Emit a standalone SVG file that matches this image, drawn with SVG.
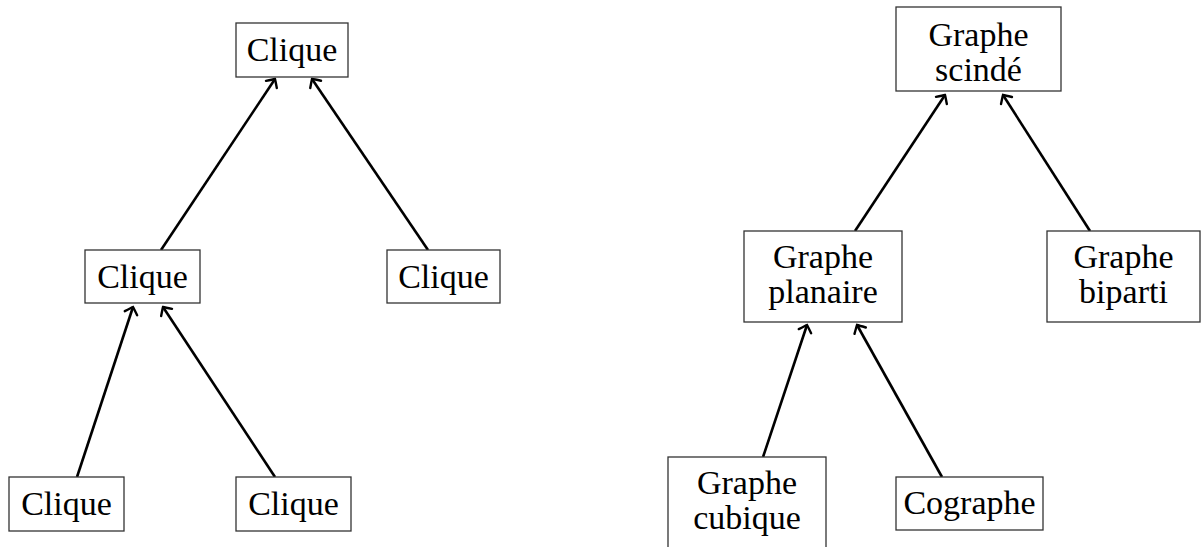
<svg xmlns="http://www.w3.org/2000/svg" width="1201" height="547" viewBox="0 0 1201 547">
<style>
.box{fill:#fff;stroke:#333;stroke-width:1.3}
.lbl{font-family:"Liberation Serif","Times New Roman",serif;font-size:34px;fill:#000;text-anchor:middle}
.edge{stroke:#000;stroke-width:2.6;fill:none;marker-end:url(#arr)}
</style>
<defs>
<marker id="arr" viewBox="-9 -9 11 18" markerWidth="11" markerHeight="18" refX="0" refY="0" orient="auto" markerUnits="userSpaceOnUse">
<path d="M-6.5,-6.5 Q-1.5,-1.6 0,0 Q-1.5,1.6 -6.5,6.5" fill="none" stroke="#000" stroke-width="2.4" stroke-linecap="round"/>
</marker>
</defs>
<rect width="1201" height="547" fill="#fff"/>
<g id="connectors">
<line class="edge" x1="161" y1="250" x2="275" y2="79"/>
<line class="edge" x1="428" y1="250" x2="312" y2="79"/>
<line class="edge" x1="77" y1="477" x2="133" y2="307"/>
<line class="edge" x1="275" y1="477" x2="163" y2="307"/>
<line class="edge" x1="855" y1="231" x2="945" y2="95"/>
<line class="edge" x1="1090" y1="231" x2="1003" y2="95"/>
<line class="edge" x1="763" y1="457" x2="807" y2="325"/>
<line class="edge" x1="942" y1="477" x2="857" y2="325"/>
</g>
<g id="n-clique-top">
<rect class="box" x="236" y="23" width="112" height="54"/>
<text class="lbl" x="292" y="61">Clique</text>
</g>
<g id="n-clique-mid">
<rect class="box" x="85" y="250" width="115" height="53"/>
<text class="lbl" x="142.5" y="288">Clique</text>
</g>
<g id="n-clique-right">
<rect class="box" x="387" y="250" width="113" height="53"/>
<text class="lbl" x="443.5" y="288">Clique</text>
</g>
<g id="n-clique-bl">
<rect class="box" x="9" y="477" width="115" height="54"/>
<text class="lbl" x="66.5" y="515">Clique</text>
</g>
<g id="n-clique-br">
<rect class="box" x="236" y="477" width="115" height="54"/>
<text class="lbl" x="293.5" y="515">Clique</text>
</g>
<g id="n-scinde">
<rect class="box" x="896" y="7" width="165" height="84"/>
<text class="lbl" x="978.5" y="46">Graphe</text>
<text class="lbl" x="978.5" y="81">scindé</text>
</g>
<g id="n-planaire">
<rect class="box" x="744" y="231" width="158" height="91"/>
<text class="lbl" x="823" y="268">Graphe</text>
<text class="lbl" x="823" y="303">planaire</text>
</g>
<g id="n-biparti">
<rect class="box" x="1047" y="231" width="153" height="91"/>
<text class="lbl" x="1123.5" y="268">Graphe</text>
<text class="lbl" x="1123.5" y="303">biparti</text>
</g>
<g id="n-cubique">
<rect class="box" x="668" y="457" width="158" height="100"/>
<text class="lbl" x="747" y="494">Graphe</text>
<text class="lbl" x="747" y="529">cubique</text>
</g>
<g id="n-cographe">
<rect class="box" x="896" y="477" width="147" height="53"/>
<text class="lbl" x="969.5" y="514">Cographe</text>
</g>
</svg>
